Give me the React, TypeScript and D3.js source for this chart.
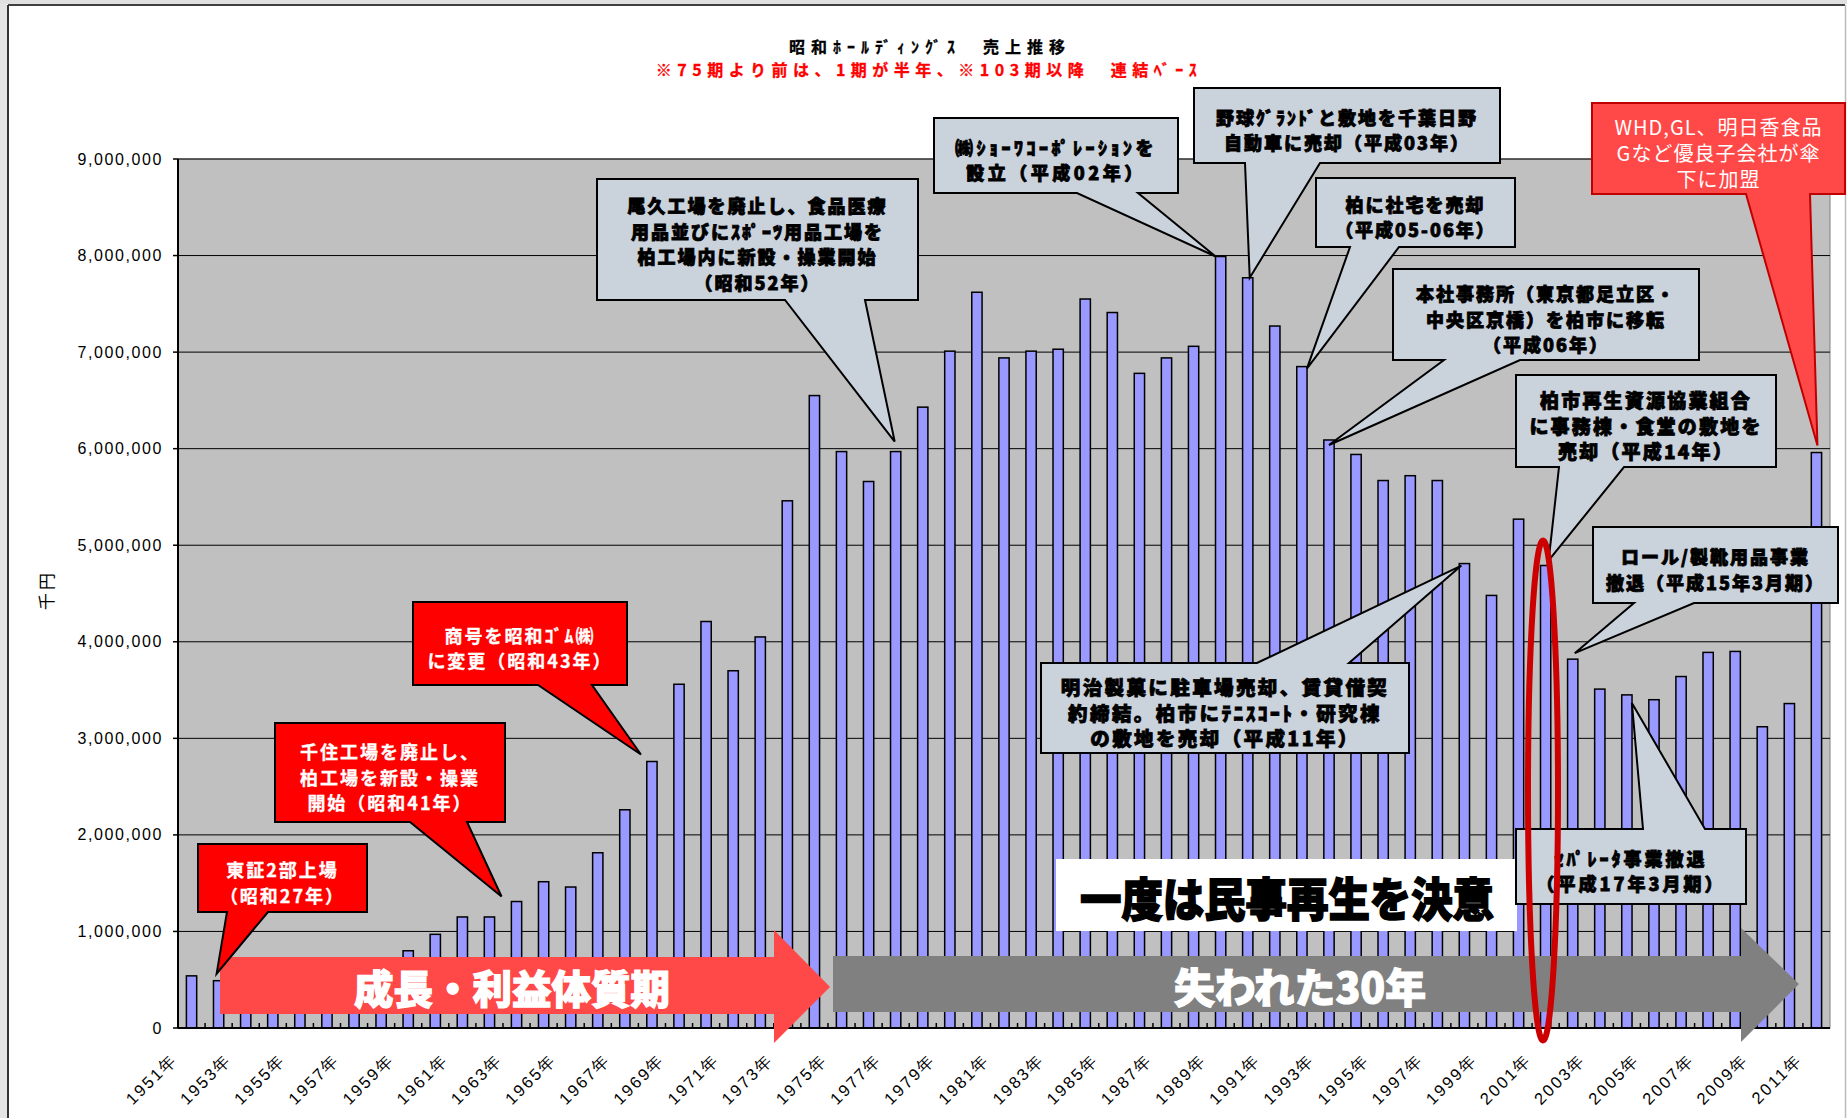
import React from "react";
import * as d3 from "d3";

// ---------- data ----------
const YEARS = [
  1951, 1952, 1953, 1954, 1955, 1956, 1957, 1958, 1959, 1960,
  1961, 1962, 1963, 1964, 1965, 1966, 1967, 1968, 1969, 1970,
  1971, 1972, 1973, 1974, 1975, 1976, 1977, 1978, 1979, 1980,
  1981, 1982, 1983, 1984, 1985, 1986, 1987, 1988, 1989, 1990,
  1991, 1992, 1993, 1994, 1995, 1996, 1997, 1998, 1999, 2000,
  2001, 2002, 2003, 2004, 2005, 2006, 2007, 2008, 2009, 2010, 2011,
];

// 売上 (千円)
const SALES = [
  540000, 490000, 520000, 560000, 590000, 620000, 660000, 700000, 800000, 970000,
  1150000, 1150000, 1310000, 1515000, 1460000, 1815000, 2260000, 2760000, 3560000, 4210000,
  3700000, 4050000, 5460000, 6550000, 5970000, 5660000, 5970000, 6430000, 7010000, 7620000,
  6940000, 7010000, 7030000, 7550000, 7410000, 6780000, 6940000, 7060000, 7990000, 7770000,
  7270000, 6850000, 6090000, 5940000, 5670000, 5720000, 5670000, 4810000, 4480000, 5270000,
  4790000, 3820000, 3510000, 3450000, 3400000, 3640000, 3890000, 3900000, 3120000, 3360000, 5960000,
];

const Y_TICKS = [0, 1000000, 2000000, 3000000, 4000000, 5000000, 6000000, 7000000, 8000000, 9000000];
const X_LABEL_YEARS = [
  1951, 1953, 1955, 1957, 1959, 1961, 1963, 1965, 1967, 1969, 1971, 1973, 1975, 1977, 1979, 1981,
  1983, 1985, 1987, 1989, 1991, 1993, 1995, 1997, 1999, 2001, 2003, 2005, 2007, 2009, 2011,
];

const TITLE = "昭和ﾎｰﾙﾃﾞｨﾝｸﾞｽ　売上推移";
const SUBTITLE = "※75期より前は、1期が半年、※103期以降　連結ﾍﾞｰｽ";
const Y_TITLE = "千円";

const NOTE_YEARS = [1952, 1963, 1968, 1977, 1989, 1990, 1992, 1993, 2001, 2002, 1998, 2004, 2011];
const NOTE_LINES = [
  ["東証2部上場", "（昭和27年）"],
  ["千住工場を廃止し、", "柏工場を新設・操業", "開始（昭和41年）"],
  ["商号を昭和ｺﾞﾑ㈱", "に変更（昭和43年）"],
  ["尾久工場を廃止し、食品医療", "用品並びにｽﾎﾟｰﾂ用品工場を", "柏工場内に新設・操業開始", "（昭和52年）"],
  ["㈱ｼｮｰﾜｺｰﾎﾟﾚｰｼｮﾝを", "設立（平成02年）"],
  ["野球ｸﾞﾗﾝﾄﾞと敷地を千葉日野", "自動車に売却（平成03年）"],
  ["柏に社宅を売却", "（平成05-06年）"],
  ["本社事務所（東京都足立区・", "中央区京橋）を柏市に移転", "（平成06年）"],
  ["柏市再生資源協業組合", "に事務棟・食堂の敷地を", "売却（平成14年）"],
  ["ロール/製靴用品事業", "撤退（平成15年3月期）"],
  ["明治製菓に駐車場売却、賃貸借契", "約締結。柏市にﾃﾆｽｺｰﾄ・研究棟", "の敷地を売却（平成11年）"],
  ["ｾﾊﾟﾚｰﾀ事業撤退", "（平成17年3月期）"],
  ["WHD,GL、明日香食品", "Gなど優良子会社が傘", "下に加盟"],
];

const PHASE_LABELS = ["成長・利益体質期", "失われた30年"];
const DECISION_LABEL = "一度は民事再生を決意";

// ---------- layout (pixel geometry, not data) ----------
const W = 1847;
const H = 1118;
const PLOT = { left: 178, right: 1830, top: 159, bottom: 1028 };

type Layout = {
  box: [number, number, number, number];
  base: [number, number];
  side: "top" | "bottom";
  dx: number;
  dy: number;
  kind: "red" | "gray" | "pink";
  fs?: number;
  ls?: number;
};

const CALLOUT_LAYOUT: Layout[] = [
  { box: [198, 844, 367, 912], base: [227, 268], side: "bottom", dx: -2, dy: -7, kind: "red" },
  { box: [275, 723, 505, 822], base: [410, 467], side: "bottom", dx: -15, dy: -5, kind: "red" },
  { box: [413, 602, 627, 685], base: [538, 592], side: "bottom", dx: -11, dy: -7, kind: "red" },
  { box: [597, 179, 918, 300], base: [785, 865], side: "bottom", dx: -1, dy: -10, kind: "gray" },
  { box: [934, 118, 1178, 193], base: [1077, 1138], side: "bottom", dx: -5, dy: 0, kind: "gray", ls: 3.5 },
  { box: [1194, 88, 1500, 163], base: [1245, 1320], side: "bottom", dx: 2, dy: 0, kind: "gray" },
  { box: [1316, 178, 1515, 247], base: [1350, 1399], side: "bottom", dx: 5, dy: 2, kind: "gray" },
  { box: [1393, 269, 1699, 360], base: [1444, 1520], side: "bottom", dx: 0, dy: 5, kind: "gray" },
  { box: [1516, 375, 1776, 467], base: [1559, 1624], side: "bottom", dx: 3, dy: -5, kind: "gray", fs: 19, ls: 2.2 },
  { box: [1593, 527, 1838, 603], base: [1634, 1694], side: "bottom", dx: 2, dy: -6, kind: "gray" },
  { box: [1041, 663, 1409, 753], base: [1257, 1349], side: "top", dx: -3, dy: 2, kind: "gray", fs: 19.5, ls: 2.4 },
  { box: [1516, 829, 1746, 904], base: [1643, 1705], side: "top", dx: 5, dy: 8, kind: "gray", ls: 3 },
  { box: [1592, 103, 1845, 194], base: [1746, 1810], side: "bottom", dx: 1, dy: -7, kind: "pink" },
];

const JP = "'Noto Sans CJK JP', 'Noto Sans', sans-serif";
const LAT = "'Liberation Sans', Arial, sans-serif";

function calloutPath(l: Layout, tip: [number, number]) {
  const [x0, y0, x1, y1] = l.box;
  const [b0, b1] = l.base;
  if (l.side === "bottom") {
    return `M${x0},${y0}H${x1}V${y1}H${b1}L${tip[0]},${tip[1]}L${b0},${y1}H${x0}Z`;
  }
  return `M${x0},${y0}H${b0}L${tip[0]},${tip[1]}L${b1},${y0}H${x1}V${y1}H${x0}Z`;
}

export default function App() {
  const x = d3.scaleBand<number>().domain(YEARS).range([PLOT.left, PLOT.right]).padding(0);
  const y = d3.scaleLinear().domain([0, 9000000]).range([PLOT.bottom, PLOT.top]);
  const step = x.step();
  const barW = step * 0.38;
  const fmt = d3.format(",");
  const cx = (yr: number) => (x(yr) as number) + step / 2;
  const valueOf = (yr: number) => SALES[YEARS.indexOf(yr)];

  const red = "#FF4848";
  const gray = "#808080";

  return (
    <svg
      width={W}
      height={H}
      style={{ position: "absolute", left: 0, top: 0, background: "#fff" }}
      xmlns="http://www.w3.org/2000/svg"
    >
      {/* outer frame */}
      <rect x={0} y={0} width={W} height={H} fill="#fff" />
      <rect x={0} y={0} width={7} height={H} fill="#e4e4e4" />
      <rect x={0} y={0} width={W} height={4} fill="#e0e0e0" />
      <line x1={8} y1={5} x2={1845} y2={5} stroke="#000" strokeWidth={1.5} />
      <line x1={8} y1={5} x2={8} y2={H} stroke="#333" strokeWidth={2} />
      <line x1={1845.5} y1={5} x2={1845.5} y2={H} stroke="#bbb" strokeWidth={1.5} />

      {/* titles */}
      <text x={930} y={46} textAnchor="middle" dominantBaseline="central" fontFamily={JP} fontWeight={700} fontSize={16} letterSpacing={6} fill="#000" stroke="#000" strokeWidth={0.3}>
        {TITLE}
      </text>
      <text x={929} y={69} textAnchor="middle" dominantBaseline="central" fontFamily={JP} fontWeight={700} fontSize={16} letterSpacing={5.5} fill="#FF0000" stroke="#FF0000" strokeWidth={0.3}>
        {SUBTITLE}
      </text>

      {/* plot area */}
      <rect x={PLOT.left} y={PLOT.top} width={PLOT.right - PLOT.left} height={PLOT.bottom - PLOT.top} fill="#C0C0C0" stroke="#808080" strokeWidth={1} />
      {Y_TICKS.filter((t) => t > 0).map((t) => (
        <line key={t} x1={PLOT.left} x2={PLOT.right} y1={y(t)} y2={y(t)} stroke="#000" strokeWidth={1} />
      ))}

      {/* bars */}
      {YEARS.map((yr, i) => (
        <rect
          key={yr}
          x={(x(yr) as number) + (step - barW) / 2}
          y={y(SALES[i])}
          width={barW}
          height={PLOT.bottom - y(SALES[i])}
          fill="#9999FF"
          stroke="#000"
          strokeWidth={1.5}
        />
      ))}

      {/* axes */}
      <line x1={PLOT.left} y1={PLOT.top} x2={PLOT.left} y2={PLOT.bottom} stroke="#000" strokeWidth={2} />
      <line x1={PLOT.left} y1={PLOT.bottom} x2={PLOT.right} y2={PLOT.bottom} stroke="#000" strokeWidth={2} />
      {Y_TICKS.map((t) => (
        <g key={t}>
          <line x1={PLOT.left - 5} x2={PLOT.left} y1={y(t)} y2={y(t)} stroke="#000" strokeWidth={1.5} />
          <text x={163} y={y(t)} textAnchor="end" dominantBaseline="central" fontFamily={LAT} fontSize={16} letterSpacing={1.6} fill="#000">
            {fmt(t)}
          </text>
        </g>
      ))}
      {YEARS.map((yr) => (
        <line key={"t" + yr} x1={x(yr) as number} x2={x(yr) as number} y1={PLOT.bottom} y2={PLOT.bottom - 5} stroke="#000" strokeWidth={1.5} />
      ))}
      {X_LABEL_YEARS.map((yr) => {
        const ax = cx(yr) - 13;
        const ay = 1060;
        return (
          <text key={"l" + yr} x={ax} y={ay} textAnchor="end" transform={`rotate(-45 ${ax} ${ay})`} fontFamily={LAT} fontSize={16.5} letterSpacing={2.2} fill="#000">
            {yr}年
          </text>
        );
      })}
      <text x={45} y={590} textAnchor="middle" dominantBaseline="central" transform="rotate(-90 45 590)" fontFamily={JP} fontSize={17} letterSpacing={3} fill="#000">
        {Y_TITLE}
      </text>

      {/* phase arrows */}
      <path d={`M220,957H774V930L830,987L774,1043V1014H220Z`} fill={red} />
      <text x={512} y={987} textAnchor="middle" dominantBaseline="central" fontFamily={JP} fontWeight={900} fontSize={40} textLength={316} lengthAdjust="spacingAndGlyphs" fill="#fff" stroke="#fff" strokeWidth={1.2}>
        {PHASE_LABELS[0]}
      </text>
      <path d={`M833,956H1741V928L1799,984L1741,1042V1012H833Z`} fill={gray} />
      <text x={1300} y={985} textAnchor="middle" dominantBaseline="central" fontFamily={JP} fontWeight={900} fontSize={41} textLength={252} lengthAdjust="spacingAndGlyphs" fill="#fff" stroke="#fff" strokeWidth={1.2}>
        {PHASE_LABELS[1]}
      </text>

      {/* decision box */}
      <rect x={1056} y={859} width={461} height={72} fill="#fff" />
      <text x={1287} y={896} textAnchor="middle" dominantBaseline="central" fontFamily={JP} fontWeight={900} fontSize={46} textLength={414} lengthAdjust="spacingAndGlyphs" fill="#000" stroke="#000" strokeWidth={1.6}>
        {DECISION_LABEL}
      </text>

      {/* callouts */}
      {CALLOUT_LAYOUT.map((l, i) => {
        const yr = NOTE_YEARS[i];
        const tip: [number, number] = [cx(yr) + l.dx, y(valueOf(yr)) + l.dy];
        const lines = NOTE_LINES[i];
        const [x0, y0, x1, y1] = l.box;
        const mx = (x0 + x1) / 2;
        const my = (y0 + y1) / 2 + 4;
        const lh = l.kind === "pink" ? 26 : 25.5;
        const fill = l.kind === "red" ? "#FF0000" : l.kind === "pink" ? "#FF4848" : "#CAD2DC";
        const stroke = l.kind === "pink" ? "#C00000" : "#000";
        const tcol = l.kind === "gray" ? "#000" : "#fff";
        const fw = l.kind === "gray" ? 900 : l.kind === "red" ? 700 : 400;
        const fs = l.fs ?? (l.kind === "pink" ? 20 : 18);
        const ls = l.ls ?? (l.kind === "pink" ? 1 : 2);
        const sw = l.kind === "gray" ? 0.8 : l.kind === "red" ? 0.3 : 0;
        return (
          <g key={"c" + i}>
            <path d={calloutPath(l, tip)} fill={fill} stroke={stroke} strokeWidth={2} strokeLinejoin="miter" />
            {lines.map((s, j) => (
              <text
                key={j}
                x={mx}
                y={my + (j - (lines.length - 1) / 2) * lh}
                textAnchor="middle"
                dominantBaseline="central"
                fontFamily={JP}
                fontWeight={fw}
                fontSize={fs}
                letterSpacing={ls}
                fill={tcol}
                stroke={sw > 0 ? tcol : "none"}
                strokeWidth={sw}
              >
                {s}
              </text>
            ))}
          </g>
        );
      })}

      {/* red ellipse */}
      <ellipse cx={1543} cy={790.5} rx={15} ry={250} fill="none" stroke="#CC0000" strokeWidth={6} />
    </svg>
  );
}
